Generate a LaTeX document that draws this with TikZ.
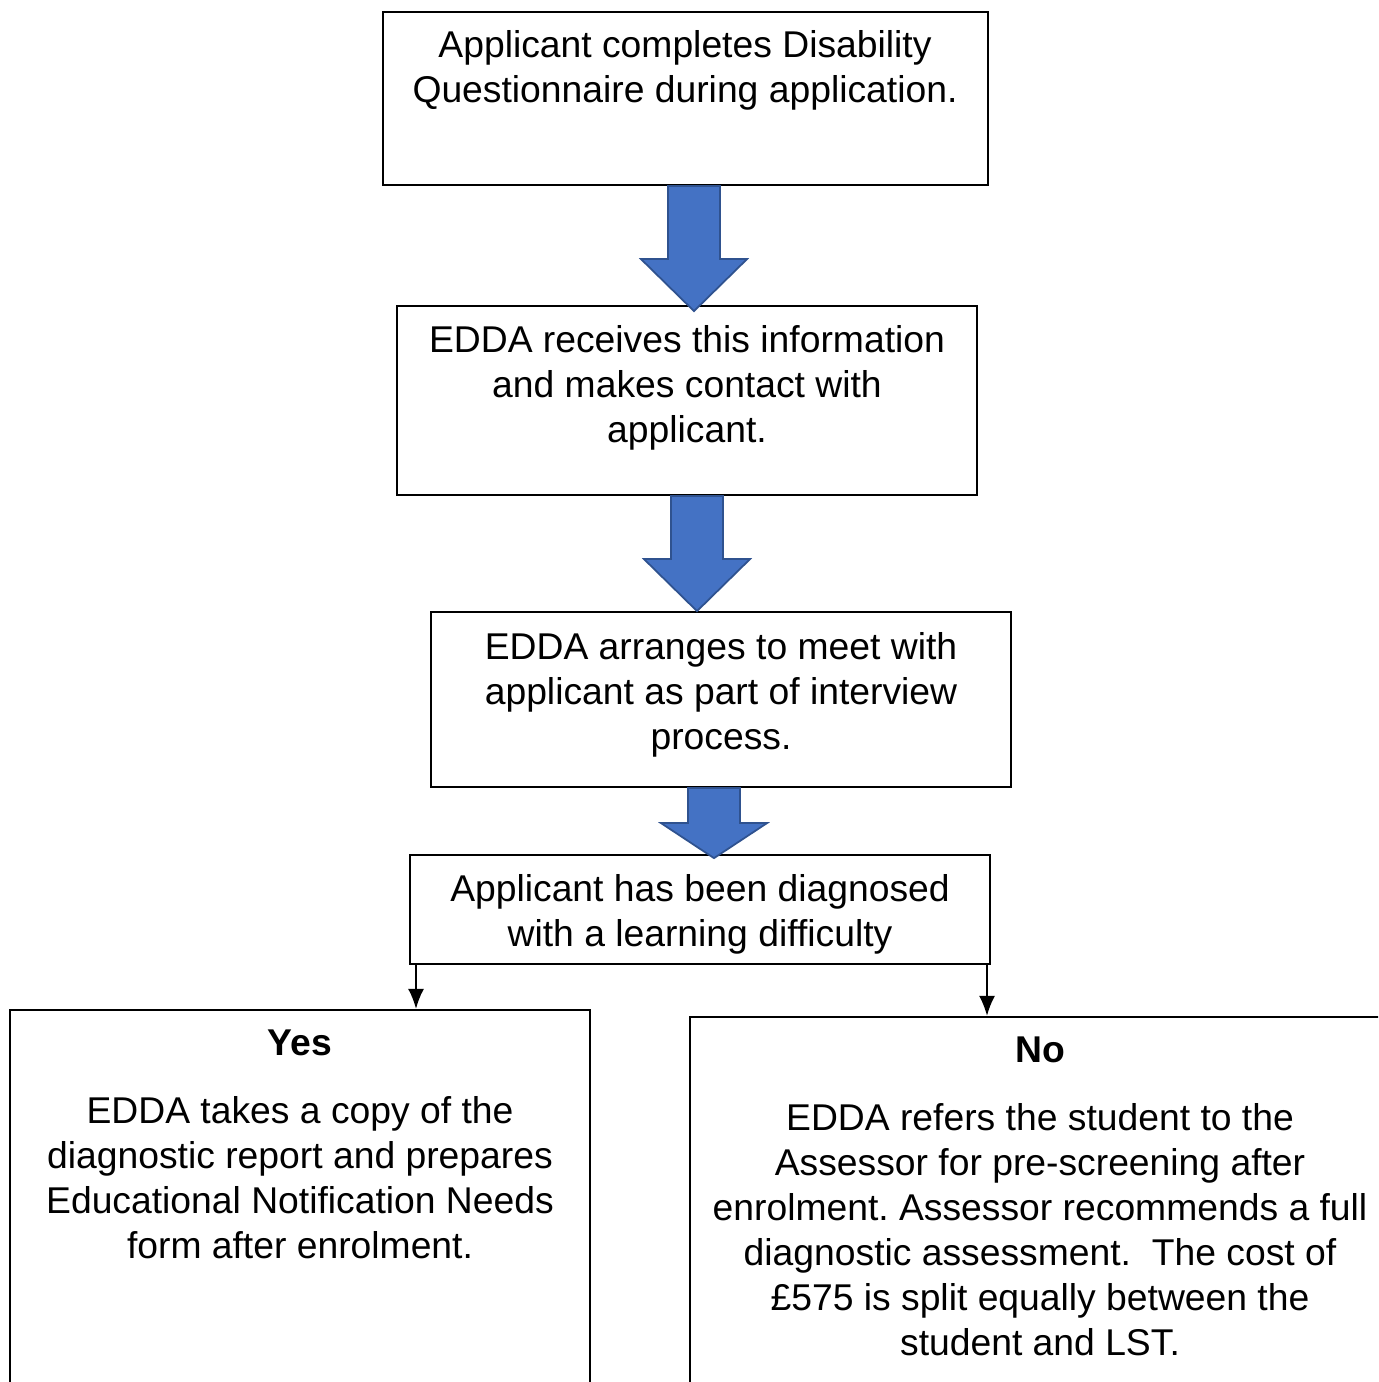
\documentclass[tikz,border=0pt]{standalone}
\usepackage{fontspec}
\setmainfont{Liberation Sans}
\usepackage{tikz}
\usetikzlibrary{arrows.meta,positioning,calc}
\definecolor{arrowblue}{HTML}{4472C4}
\definecolor{arrowedge}{HTML}{2F528F}
% block arrow pointing down: top centre, shaft length, total length
\newcommand{\blockarrow}[3]{%
  \filldraw[bigarrow] ($(#1)+(-26,0)$) -- ++(0,#2) -- ++(-27,0)
    -- ($(#1)+(0,#3)$) -- ($(#1)+(53,#2)$) -- ++(-27,0) -- ($(#1)+(26,0)$) -- cycle;}

\begin{document}
\frenchspacing
\begin{tikzpicture}[
        x=0.01cm, y=-0.01cm,
        font=\fontsize{10.6pt}{12.8pt}\selectfont,
        >=Latex,
        box/.style={draw, line width=0.6pt, inner sep=0pt},
        txt/.style={align=center, inner sep=0pt},
        bigarrow/.style={fill=arrowblue, draw=arrowedge, line width=0.5pt, line join=miter},
        line/.style={-{Latex[length=2mm,width=1.6mm]}, line width=0.5pt},
    ]
        \useasboundingbox (0,0) rectangle (1378,1382);
        \clip (0,0) rectangle (1378,1382);

        % --- boxes ---
        \node[box, minimum width=6.05cm, minimum height=1.73cm] (q) at (685.5,98.5) {};
        \node[box, minimum width=5.80cm, minimum height=1.89cm] (recv) at (687,400.5) {};
        \node[box, minimum width=5.80cm, minimum height=1.75cm] (meet) at (721,699.5) {};
        \node[box, minimum width=5.80cm, minimum height=1.09cm] (diag) at (700,909.5) {};
        \node[box, minimum width=5.80cm, minimum height=3.90cm] (yes) at (300,1205) {};
        \node[box, minimum width=7.10cm, minimum height=3.86cm] (no) at (1045,1210) {};

        % --- texts ---
        \node[txt] (qtxt) at (685,70.5) {Applicant completes Disability\\Questionnaire during application.};
        \node[txt] (recvtxt) at (687,388) {EDDA receives this information\\and makes contact with\\applicant.};
        \node[txt] (meettxt) at (721,694.5) {EDDA arranges to meet with\\applicant as part of interview\\process.};
        \node[txt] (diagtxt) at (700,914) {Applicant has been diagnosed\\with a learning difficulty};
        \node[txt, font=\fontsize{10.6pt}{12.8pt}\selectfont\bfseries] (yeshead) at (300,1043) {Yes};
        \node[txt] (yestxt) at (300,1178) {EDDA takes a copy of the\\diagnostic report and prepares\\Educational Notification Needs\\form after enrolment.};
        \node[txt, font=\fontsize{10.6pt}{12.8pt}\selectfont\bfseries] (nohead) at (1040,1050) {No};
        \node[txt] (notxt) at (1040,1229.5) {EDDA refers the student to the\\Assessor for pre-screening after\\enrolment. Assessor recommends a full\\diagnostic assessment.\ \ The cost of\\£575 is split equally between the\\student and LST.};

        % --- block arrows ---
        \coordinate (a1) at (q.south -| 694,0);
        \blockarrow{a1}{73}{125}
        \coordinate (a2) at (recv.south -| 697,0);
        \blockarrow{a2}{63}{115}
        \coordinate (a3) at (meet.south -| 714,0);
        \blockarrow{a3}{35}{70}

        % --- decision arrows ---
        \draw[line] (diag.south -| 416,0) -- (yes.north -| 416,0);
        \draw[line] (diag.south -| 987,0) -- (no.north -| 987,0);
\end{tikzpicture}
\end{document}
